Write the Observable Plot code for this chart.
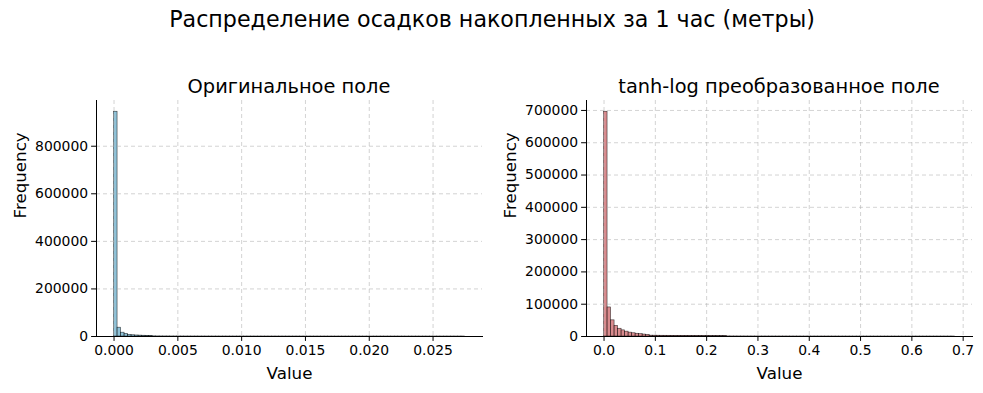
<!DOCTYPE html>
<html>
<head>
<meta charset="utf-8">
<script src="https://cdn.jsdelivr.net/npm/d3@7"></script>
<script src="https://cdn.jsdelivr.net/npm/@observablehq/plot@0.6"></script>
<style>
  html, body { margin: 0; padding: 0; background: #fff; }
  #fig { position: relative; width: 983px; height: 393px; font-family: "DejaVu Sans", sans-serif; overflow: hidden; background: #fff; }
  .t { position: absolute; white-space: nowrap; color: #000; transform: translate(-50%, -50%); z-index: 5; line-height: 1; }
  .p { position: absolute; top: 70px; z-index: 1; }
</style>
</head>
<body>
<div id="fig">
  <div class="p" id="p1" style="left:0px;"></div>
  <div class="p" id="p2" style="left:491px;"></div>
  <div class="t" id="suptitle" style="left:492px; top:19px; font-size:22.2px;"></div>
  <div class="t" id="title1" style="left:289px; top:87px; font-size:19.4px;"></div>
  <div class="t" id="title2" style="left:779px; top:87px; font-size:19.4px;"></div>
</div>
<script>
const suptitle = "Распределение осадков накопленных за 1 час (метры)";
const title1 = "Оригинальное поле";
const title2 = "tanh-log преобразованное поле";
const xLabel = "Value";
const yLabel = "Frequency";

// Histogram 1 (original field): 100 bins over [0, 0.0275]
const origRange = [0, 0.0275];
const origCounts = [
  945000, 37000, 16000, 11000, 7000, 5200, 4300, 3700, 3200, 2800,
  2300, 700, 450, 350, 300, 260, 230, 200, 180, 160,
  150, 140, 130, 120, 110, 100, 95, 90, 85, 80,
  75, 70, 65, 60, 58, 55, 52, 50, 48, 46,
  44, 42, 40, 38, 36, 34, 32, 30, 29, 28,
  27, 26, 25, 24, 23, 22, 21, 20, 19, 18,
  17, 16, 15, 14, 13, 12, 12, 11, 11, 10,
  10, 9, 9, 8, 8, 7, 7, 6, 6, 5,
  5, 5, 4, 4, 4, 3, 3, 3, 3, 2,
  2, 2, 2, 2, 1, 1, 1, 1, 1, 1
];
const origXTicks = [0, 0.005, 0.010, 0.015, 0.020, 0.025];
const origYTicks = [0, 200000, 400000, 600000, 800000];

// Histogram 2 (tanh-log transformed field): 100 bins over [0, 0.684]
const tranRange = [0, 0.684];
const tranCounts = [
  696000, 90000, 50000, 33000, 24000, 19000, 15000, 12000, 10000, 8500,
  7200, 6000, 5000, 2600, 2500, 2400, 2300, 2250, 2200, 2150,
  2100, 2050, 2000, 1950, 1900, 1850, 1800, 1750, 1700, 1650,
  1600, 1550, 1500, 1450, 1400, 300, 250, 220, 200, 180,
  160, 150, 140, 130, 120, 110, 100, 95, 90, 85,
  80, 75, 70, 65, 60, 55, 50, 48, 45, 42,
  40, 38, 35, 32, 30, 28, 26, 24, 22, 20,
  18, 16, 15, 14, 13, 12, 11, 10, 9, 8,
  7, 7, 6, 6, 5, 5, 4, 4, 3, 3,
  3, 2, 2, 2, 2, 1, 1, 1, 1, 1
];
const tranXTicks = [0, 0.1, 0.2, 0.3, 0.4, 0.5, 0.6, 0.7];
const tranYTicks = [0, 100000, 200000, 300000, 400000, 500000, 600000, 700000];

document.getElementById("suptitle").textContent = suptitle;
document.getElementById("title1").textContent = title1;
document.getElementById("title2").textContent = title2;

function bins(range, counts) {
  const w = (range[1] - range[0]) / counts.length;
  return counts.map((c, i) => ({x1: range[0] + i * w, x2: range[0] + (i + 1) * w, y: c}));
}

function hist({range, counts, xTicks, yTicks, xFmt, fill, marginLeft, marginRight, width}) {
  const data = bins(range, counts);
  const span = range[1] - range[0];
  const xDom = [range[0] - 0.05 * span, range[1] + 0.05 * span];
  const yMax = d3.max(counts) * 1.05;
  const grid = {stroke: "#b0b0b0", strokeOpacity: 0.7, strokeDasharray: "4,3", strokeWidth: 0.8};
  return Plot.plot({
    width, height: 323,
    marginLeft, marginRight, marginTop: 30, marginBottom: 57,
    style: {fontFamily: "DejaVu Sans, sans-serif", fontSize: "13.9px", color: "#000", background: "transparent", overflow: "visible"},
    x: {domain: xDom},
    y: {domain: [0, yMax]},
    marks: [
      Plot.rectY(data, {x1: "x1", x2: "x2", y: "y", fill, fillOpacity: 0.7, stroke: "#000", strokeOpacity: 0.75, strokeWidth: 0.6, inset: 0}),
      Plot.gridY(yTicks, grid),
      Plot.gridX(xTicks, grid),
      Plot.frame({anchor: "left", stroke: "#000", strokeWidth: 1}),
      Plot.frame({anchor: "bottom", stroke: "#000", strokeWidth: 1}),
      Plot.axisX(xTicks, {tickFormat: d3.format(xFmt), tickSize: 4.9, tickPadding: 3.5, fontSize: 13.9, label: null}),
      Plot.axisY(yTicks, {tickFormat: d3.format("d"), tickSize: 4.9, tickPadding: 3.5, fontSize: 13.9, label: null}),
      Plot.text([xLabel], {frameAnchor: "bottom", dy: 42, fontSize: 16.7, fill: "#000"}),
      Plot.text([yLabel], {frameAnchor: "left", dx: -76, rotate: -90, fontSize: 16.7, fill: "#000"})
    ]
  });
}

document.getElementById("p1").appendChild(hist({
  range: origRange, counts: origCounts, xTicks: origXTicks, yTicks: origYTicks, xFmt: ".3f",
  fill: "#5fa8c8", marginLeft: 96, marginRight: 9, width: 491
}));
document.getElementById("p2").appendChild(hist({
  range: tranRange, counts: tranCounts, xTicks: tranXTicks, yTicks: tranYTicks, xFmt: ".1f",
  fill: "#c95a5e", marginLeft: 95, marginRight: 11, width: 492
}));
</script>
</body>
</html>
